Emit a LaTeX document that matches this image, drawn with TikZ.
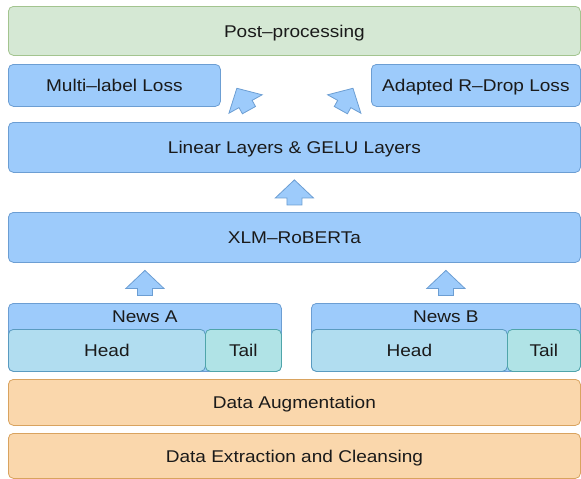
\documentclass[tikz,border=0pt]{standalone}
\usepackage{fontspec}
\setmainfont[FakeStretch=1.12]{Liberation Sans}
\usetikzlibrary{calc}
\definecolor{bfill}{HTML}{9DCBFB}
\definecolor{bline}{HTML}{6C9ED3}
\definecolor{gfill}{HTML}{D5E8D4}
\definecolor{gline}{HTML}{A3C48F}
\definecolor{ofill}{HTML}{FAD7AC}
\definecolor{oline}{HTML}{D9A35F}
\definecolor{hfill}{HTML}{B1DDF0}
\definecolor{hline}{HTML}{5A9BC0}
\definecolor{tfill}{HTML}{B0E3E6}
\definecolor{tline}{HTML}{4FA5AA}
\definecolor{txt}{HTML}{1A1A1A}
\tikzset{
  box/.style={draw, rounded corners=5pt, line width=0.8pt, inner sep=0pt, anchor=north west,
    text=txt, font=\fontsize{17}{20}\selectfont, text height=14pt, text depth=1pt},
  bluebox/.style={box, fill=bfill, draw=bline},
  greenbox/.style={box, fill=gfill, draw=gline},
  orangebox/.style={box, fill=ofill, draw=oline},
  headbox/.style={box, fill=hfill, draw=hline},
  tailbox/.style={box, fill=tfill, draw=tline},
  lbl/.style={inner sep=0pt, text=txt, font=\fontsize{17}{20}\selectfont, text height=14pt, text depth=1pt},
  blockarrow/.style={fill=bfill, draw=bline, line width=0.8pt, line join=miter},
}
\newcommand\blkarrow[2]{%
  \path[blockarrow, shift={#1}, rotate=#2]
    (-7.5,12.5) -- (-7.5,5.5) -- (-19,5.5) -- (0,-12.5) -- (19,5.5) -- (7.5,5.5) -- (7.5,12.5) -- cycle;}
\begin{document}
\begin{tikzpicture}[x=1pt,y=-1pt]
\useasboundingbox (0,0) rectangle (581,479);
% boxes
\node[greenbox, minimum width=572pt, minimum height=49pt] (post) at (8,6) {Post–processing};
\node[bluebox, minimum width=212pt, minimum height=42pt] (mll) at (8,64) {Multi–label Loss};
\node[bluebox, minimum width=209pt, minimum height=42pt] (adl) at (371,64) {Adapted R–Drop Loss};
\node[bluebox, minimum width=572pt, minimum height=50pt] (lin) at (8,122) {Linear Layers \& GELU Layers};
\node[bluebox, minimum width=572pt, minimum height=50pt] (xlm) at (8,212) {XLM–RoBERTa};
% News A
\node[bluebox, minimum width=273pt, minimum height=68pt] (newsA) at (8,303) {};
\node[lbl] (newsAt) at ($(newsA.north)+(0,13)$) {News A};
\node[headbox, minimum width=197pt, minimum height=42pt] (headA) at (8,329) {Head};
\node[tailbox, minimum width=76pt, minimum height=42pt] (tailA) at (205,329) {Tail};
% News B
\node[bluebox, minimum width=269pt, minimum height=68pt] (newsB) at (311,303) {};
\node[lbl] (newsBt) at ($(newsB.north)+(0,13)$) {News B};
\node[headbox, minimum width=196pt, minimum height=42pt] (headB) at (311,329) {Head};
\node[tailbox, minimum width=73pt, minimum height=42pt] (tailB) at (507,329) {Tail};
% data
\node[orangebox, minimum width=572pt, minimum height=46pt] (aug) at (8,379) {Data Augmentation};
\node[orangebox, minimum width=572pt, minimum height=45pt] (ext) at (8,433) {Data Extraction and Cleansing};
% block arrows
\blkarrow{($(newsA.north)!0.5!(newsA.north |- xlm.south)$)}{0}
\blkarrow{($(newsB.north)!0.5!(newsB.north |- xlm.south)$)}{0}
\blkarrow{($(xlm.north)!0.5!(lin.south)$)}{0}
\blkarrow{($(lin.north)+(-51.5,-22.8)$)}{29}
\blkarrow{($(lin.north)+(52.5,-22.8)$)}{-29}
\end{tikzpicture}
\end{document}
